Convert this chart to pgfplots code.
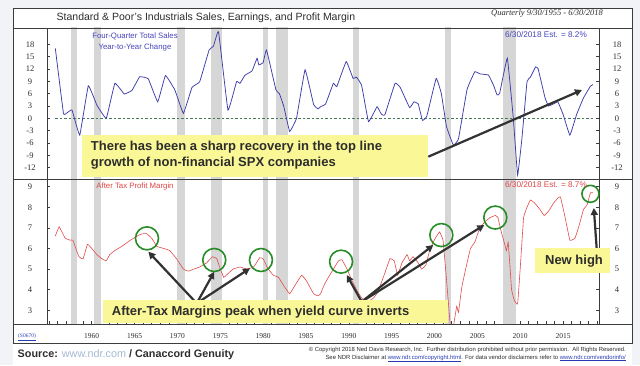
\documentclass[border=0pt]{standalone}
\usepackage{pgfplots}
\pgfplotsset{compat=1.18}
\usepackage{fontspec}
\setmainfont{Liberation Sans}
\newfontfamily\tnr{Liberation Serif}
\usetikzlibrary{arrows.meta}

\definecolor{framec}{RGB}{60,60,60}
\definecolor{blueline}{RGB}{60,60,170}
\definecolor{redline}{RGB}{225,75,75}
\definecolor{recgray}{RGB}{214,214,214}
\definecolor{yel}{RGB}{250,248,150}
\definecolor{cgreen}{RGB}{40,140,40}
\definecolor{arrowc}{RGB}{50,50,50}
\definecolor{zeroc}{RGB}{70,120,90}
\definecolor{bgc}{RGB}{241,243,246}
\definecolor{linkc}{RGB}{165,185,210}
\definecolor{txt}{RGB}{45,45,45}
\definecolor{lblue}{RGB}{70,70,190}
\definecolor{lred}{RGB}{225,70,70}
\definecolor{vlink}{RGB}{40,60,180}

\newcommand{\recbars}[2]{%
 \addplot[fill=recgray,draw=none] coordinates {(1957.58,#1) (1957.58,#2) (1958.29,#2) (1958.29,#1)};
 \addplot[fill=recgray,draw=none] coordinates {(1960.29,#1) (1960.29,#2) (1961.13,#2) (1961.13,#1)};
 \addplot[fill=recgray,draw=none] coordinates {(1969.92,#1) (1969.92,#2) (1970.88,#2) (1970.88,#1)};
 \addplot[fill=recgray,draw=none] coordinates {(1973.88,#1) (1973.88,#2) (1975.21,#2) (1975.21,#1)};
 \addplot[fill=recgray,draw=none] coordinates {(1980.04,#1) (1980.04,#2) (1980.54,#2) (1980.54,#1)};
 \addplot[fill=recgray,draw=none] coordinates {(1981.54,#1) (1981.54,#2) (1982.88,#2) (1982.88,#1)};
 \addplot[fill=recgray,draw=none] coordinates {(1990.54,#1) (1990.54,#2) (1991.21,#2) (1991.21,#1)};
 \addplot[fill=recgray,draw=none] coordinates {(2001.21,#1) (2001.21,#2) (2001.88,#2) (2001.88,#1)};
 \addplot[fill=recgray,draw=none] coordinates {(2007.96,#1) (2007.96,#2) (2009.46,#2) (2009.46,#1)};
}

\pgfplotsset{
 panel/.style={scale only axis, width=552pt, xmin=1954.78, xmax=2019.2,
   axis line style={framec, line width=0.8pt},
   tick style={framec, line width=0.5pt},
   major tick length=3pt, minor tick length=3pt,
   ticklabel style={font=\tnr\fontsize{8.5}{10}\selectfont, text=txt},
   yticklabel style={anchor=center, xshift=-17pt}},
 rlab/.style={scale only axis, width=552pt, xmin=1954.78, xmax=2019.2,
   axis x line=none, axis y line*=right, y axis line style={draw=none},
   major tick length=0pt,
   ticklabel style={font=\tnr\fontsize{8.5}{10}\selectfont, text=txt},
   yticklabel style={anchor=center, xshift=18pt}}
}

\begin{document}
\begin{tikzpicture}[x=1pt,y=1pt]
\fill[bgc] (0,0) rectangle (640,365);
\useasboundingbox (0,0) rectangle (640,365);
\fill[white] (13,0) rectangle (632,357);

% ---------- top panel ----------
\begin{axis}[panel, at={(47pt,186pt)}, anchor=south west, height=151pt,
  ymin=-14.76, ymax=21.95, xtick=\empty,
  ytick={-12,-9,-6,-3,0,3,6,9,12,15,18},
  yticklabels={-12,-9,-6,-3,0,3,6,9,12,15,18}]
\recbars{-30}{30}
\addplot[zeroc, line width=0.6pt, dash pattern=on 2.5pt off 2pt] coordinates {(1955.75,0) (2018.5,0)};
\addplot[blueline, line width=0.75pt, smooth, tension=0.15] coordinates {
(1955.75,17.0) (1956.7,1.2) (1957.1,1.3) (1957.7,2.0) (1958.6,-4.1) (1959.6,7.9)
(1960.6,3.2) (1961.7,0.0) (1962.7,8.5) (1963.8,5.9) (1964.7,6.8) (1965.6,10.1)
(1966.6,9.6) (1967.7,4.0) (1968.6,10.4) (1969.7,6.9) (1970.7,1.2) (1971.7,7.5)
(1972.6,8.9) (1973.7,16.6) (1974.2,17.5) (1974.8,21.0) (1975.9,2.0) (1976.9,8.9)
(1977.3,8.5) (1977.9,10.5) (1978.7,11.5) (1979.3,14.6) (1979.5,13.0) (1980.0,13.5)
(1980.4,16.6) (1981.5,6.9) (1981.9,6.0) (1982.4,3.0) (1983.1,-3.2) (1983.9,0.0)
(1984.9,11.8) (1985.9,3.3) (1986.4,2.3) (1986.7,2.8) (1987.3,3.5) (1988.2,8.5)
(1988.6,7.7) (1989.7,13.8) (1990.5,9.7) (1990.9,10.0) (1991.5,8.0) (1992.3,-0.8)
(1993.3,2.8) (1993.8,1.0) (1994.2,0.8) (1995.4,8.5) (1996.0,7.5) (1997.1,2.6)
(1997.6,4.0) (1998.1,3.5) (1998.6,-0.5) (1999.1,0.5) (2000.2,9.7) (2000.8,6.0)
(2001.4,-2.0) (2002.2,-6.5) (2002.8,-5.0) (2003.8,7.0) (2004.7,11.3) (2005.3,10.8)
(2006.3,10.5) (2006.9,8.0) (2007.3,5.7) (2007.6,6.0) (2008.5,14.6) (2009.2,0.0)
(2009.7,-13.8) (2010.2,-5.0) (2010.8,8.9) (2011.2,10.0) (2011.8,12.5) (2012.1,12.0)
(2012.9,5.0) (2013.3,3.0) (2013.9,3.5) (2014.4,4.0) (2015.0,1.0) (2015.8,-4.1)
(2016.6,1.0) (2017.4,5.0) (2018.2,7.8) (2018.5,8.2)};
\end{axis}
\begin{axis}[rlab, at={(47pt,186pt)}, anchor=south west, height=151pt,
  ymin=-14.76, ymax=21.95,
  ytick={-12,-9,-6,-3,0,3,6,9,12,15,18},
  yticklabels={-12,-9,-6,-3,0,3,6,9,12,15,18}]
\addplot[draw=none] coordinates {(1960,0)};
\end{axis}

% ---------- bottom panel ----------
\begin{axis}[panel, at={(47pt,41pt)}, anchor=south west, height=145pt,
  ymin=2.335, ymax=9.37, clip mode=individual,
  ytick={3,4,5,6,7,8,9}, yticklabels={3,4,5,6,7,8,9},
  xtick={1960,1965,1970,1975,1980,1985,1990,1995,2000,2005,2010,2015},
  xticklabels={1960,1965,1970,1975,1980,1985,1990,1995,2000,2005,2010,2015},
  minor xtick={1955,1956,...,2019},
  xtick pos=bottom,
  xticklabel style={font=\tnr\fontsize{7.5}{9}\selectfont, yshift=-6pt}]
\recbars{0}{12}
\addplot[redline, line width=0.6pt, smooth, tension=0.15] coordinates {
(1955.75,6.6) (1956.2,7.05) (1956.9,6.5) (1957.5,6.4) (1957.8,6.4) (1958.5,5.6)
(1959.0,5.5) (1959.5,6.2) (1960.0,6.0) (1960.6,5.7) (1961.2,5.5) (1961.7,5.4)
(1962.1,5.7) (1962.7,5.9) (1963.5,6.1) (1964.5,6.4) (1965.3,6.6) (1965.8,6.7)
(1966.4,6.72) (1967.0,6.5) (1967.6,6.1) (1968.4,6.0) (1969.1,5.9) (1969.9,5.5)
(1970.7,5.0) (1971.3,4.9) (1971.9,5.0) (1972.6,5.1) (1973.4,5.3) (1974.1,5.6)
(1974.6,5.5) (1975.0,5.0) (1975.4,4.6) (1975.7,4.7) (1976.5,5.0) (1977.3,5.1)
(1978.1,5.0) (1978.9,5.1) (1979.6,5.55) (1980.0,5.5) (1980.6,5.0) (1981.2,4.7)
(1981.8,4.6) (1982.4,4.2) (1983.1,3.8) (1983.7,4.2) (1984.5,4.7) (1985.1,4.4)
(1985.9,3.8) (1986.4,3.7) (1986.7,3.8) (1987.2,4.3) (1988.2,5.0) (1988.8,5.4)
(1989.2,5.45) (1989.8,5.0) (1990.3,4.5) (1990.9,4.0) (1991.5,3.6) (1992.1,3.4)
(1992.9,3.6) (1993.4,3.9) (1994.2,4.8) (1994.8,5.5) (1995.3,5.4) (1995.7,4.7)
(1996.2,5.3) (1996.8,5.7) (1997.1,5.4) (1997.5,5.6) (1998.1,5.3) (1998.5,5.0)
(1999.0,5.2) (1999.5,6.0) (2000.1,6.5) (2000.6,6.8) (2001.0,6.4) (2001.3,5.0)
(2001.6,3.5) (2001.9,2.0) (2002.2,2.2) (2002.6,3.2) (2002.8,2.9) (2003.2,4.15)
(2003.8,5.3) (2004.2,6.0) (2004.7,6.3) (2005.3,7.0) (2005.9,7.3) (2006.5,7.5)
(2007.1,7.6) (2007.4,7.5) (2007.8,6.8) (2008.2,6.2) (2008.4,5.9) (2008.6,6.3)
(2008.8,5.2) (2009.0,4.0) (2009.3,3.5) (2009.7,3.3) (2010.0,5.0) (2010.4,7.5)
(2010.8,8.0) (2011.2,8.35) (2011.7,8.2) (2012.3,7.9) (2012.8,7.6) (2013.3,7.8)
(2013.9,8.2) (2014.4,8.45) (2014.7,8.5) (2015.2,7.6) (2015.8,6.4) (2016.4,6.5)
(2016.8,7.0) (2017.4,7.9) (2017.8,8.1) (2018.2,8.7) (2018.5,8.7)};
\addplot[only marks, mark=o, mark size=11.5pt, mark options={draw=cgreen, line width=1.6pt}] coordinates {
(1966.45,6.49) (1974.3,5.44) (1979.75,5.44) (1989.1,5.36) (2000.8,6.65) (2007.1,7.5)};
\addplot[only marks, mark=o, mark size=8.5pt, mark options={draw=cgreen, line width=1.6pt}] coordinates {
(2018.2,8.65)};
\end{axis}
\begin{axis}[rlab, at={(47pt,41pt)}, anchor=south west, height=145pt,
  ymin=2.335, ymax=9.37,
  ytick={3,4,5,6,7,8,9}, yticklabels={3,4,5,6,7,8,9}]
\addplot[draw=none] coordinates {(1960,5)};
\end{axis}

% ---------- frame ----------
\draw[framec, line width=0.8pt] (13,22) rectangle (632,357);
\draw[framec, line width=0.8pt] (13,337) -- (632,337);
\draw[framec, line width=0.8pt] (13,186) -- (632,186);
\draw[framec, line width=0.8pt] (13,41) -- (632,41);

% ---------- arrows ----------
\tikzset{arr/.style={arrowc, line width=2.2pt, -{Triangle[length=7pt,width=7pt]}}}
\draw[arr] (428.3,208.3) -- (582,275);
\draw[arr] (196.7,61.7) -- (148.3,113.3);
\draw[arr] (196.7,61.7) -- (214.3,93.3);
\draw[arr] (196.7,61.7) -- (250,96.7);
\draw[arr] (361.7,63.3) -- (346.7,90);
\draw[arr] (361.7,63.3) -- (433.3,120);
\draw[arr] (361.7,63.3) -- (484.3,140);
\draw[arr] (597,112) -- (593.8,157);

% ---------- boxes ----------
\fill[yel] (81.7,188) rectangle (428.3,230);
\node[anchor=west, inner sep=0, font=\bfseries\fontsize{13}{15}\selectfont, text=txt] at (90.7,218.3) {There has been a sharp recovery in the top line};
\node[anchor=west, inner sep=0, font=\bfseries\fontsize{13}{15}\selectfont, text=txt] at (90.7,201.7) {growth of non-financial SPX companies};
\fill[yel] (103.3,42) rectangle (448.3,65);
\node[anchor=west, inner sep=0, font=\bfseries\fontsize{13}{15}\selectfont, text=txt] at (111.7,53.3) {After-Tax Margins peak when yield curve inverts};
\fill[yel] (535,91.7) rectangle (610,116.7);
\node[inner sep=0, font=\bfseries\fontsize{13}{15}\selectfont, text=txt] at (574,103.8) {New high};

% ---------- texts ----------
\node[anchor=west, inner sep=0, font=\fontsize{10.5}{12}\selectfont, text=txt] at (56.5,347) {Standard \& Poor's Industrials Sales, Earnings, and Profit Margin};
\node[anchor=east, inner sep=0, font=\tnr\itshape\fontsize{8.5}{10}\selectfont, text=txt] at (603,352) {Quarterly 9/30/1955 - 6/30/2018};
\node[inner sep=0, font=\fontsize{7.8}{9}\selectfont, text=lblue] at (135,328.3) {Four-Quarter Total Sales};
\node[inner sep=0, font=\fontsize{7.8}{9}\selectfont, text=lblue] at (135,317.3) {Year-to-Year Change};
\node[anchor=east, inner sep=0, font=\fontsize{8.2}{9}\selectfont, text=lblue] at (587,330) {6/30/2018 Est. = 8.2\%};
\node[inner sep=0, font=\fontsize{7.8}{9}\selectfont, text=lred] at (135,178.3) {After Tax Profit Margin};
\node[anchor=east, inner sep=0, font=\fontsize{8.2}{9}\selectfont, text=lred] at (587,180) {6/30/2018 Est. = 8.7\%};
\node[inner sep=0, font=\tnr\fontsize{5.5}{6}\selectfont, text=vlink] at (27,28) {\underline{(S0670)}};
\node[anchor=west, inner sep=0, font=\bfseries\fontsize{10.8}{12}\selectfont, text=txt] at (17.5,10) {Source: \textcolor{linkc}{\mdseries www.ndr.com} / Canaccord Genuity};
\node[anchor=east, inner sep=0, font=\fontsize{5.9}{7}\selectfont, text=txt] at (626,15) {\textcopyright{} Copyright 2018 Ned Davis Research, Inc.\ \ Further distribution prohibited without prior permission.\ \ All Rights Reserved.};
\node[anchor=east, inner sep=0, font=\fontsize{5.9}{7}\selectfont, text=txt] at (626,6.5) {See NDR Disclaimer at \textcolor{vlink}{\underline{www.ndr.com/copyright.html}}. For data vendor disclaimers refer to \textcolor{vlink}{\underline{www.ndr.com/vendorinfo/}}};
\end{tikzpicture}
\end{document}
